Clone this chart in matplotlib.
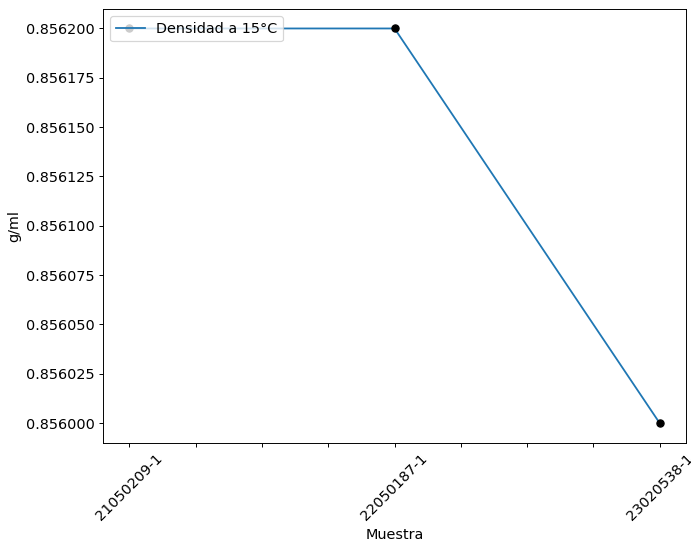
import matplotlib
matplotlib.use("Agg")
import matplotlib.pyplot as plt
import numpy as np

muestras = ["21050209-1", "22050187-1", "23020538-1"]
densidad = [0.8562, 0.8562, 0.856]

plt.rcParams['font.size'] = 12
DPI = 86.4
fig, ax = plt.subplots(figsize=(691 / DPI, 546 / DPI), dpi=DPI)
x = np.arange(len(muestras))
ax.plot(x, densidad, color='C0', label='Densidad a 15°C')
ax.scatter(x, densidad, color='black', s=36, zorder=3)
ax.ticklabel_format(axis='y', useOffset=False, style='plain')
ticks = np.arange(0, len(muestras) - 1 + 0.01, 0.25)
ax.set_xticks(ticks)
labels = [muestras[int(t)] if abs(t - round(t)) < 1e-9 else '' for t in ticks]
ax.set_xticklabels(labels, rotation=45)
ax.set_xlabel('Muestra')
ax.set_ylabel('g/ml')
ax.legend(loc='upper left')
fig.subplots_adjust(left=0.149, right=0.993, top=0.984, bottom=0.189)
fig.savefig('out.png', dpi=DPI)
